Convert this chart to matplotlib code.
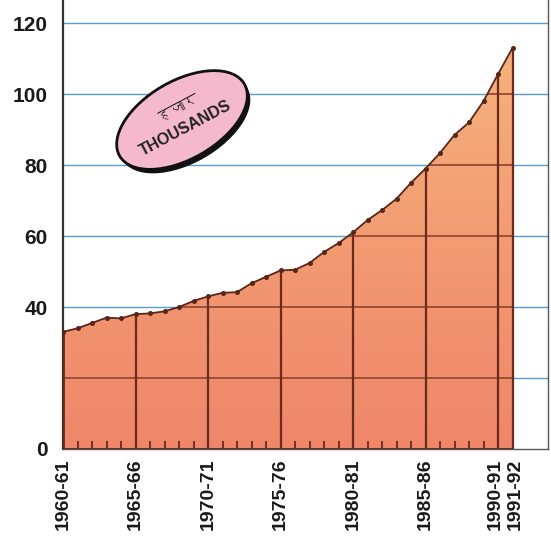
import numpy as np
import matplotlib.pyplot as plt
from matplotlib import font_manager
from matplotlib.ft2font import FT2Font
from matplotlib.colors import LinearSegmentedColormap
from matplotlib.patches import Ellipse, Polygon
from matplotlib.transforms import ScaledTranslation


# ------------------------------------------------------------
# Datos (miles), 1960-61 ... 1991-92
# ------------------------------------------------------------
anos = list(range(1960, 1992))
valores = [33.0, 34.0, 35.5, 37.0, 36.8, 38.0, 38.2, 38.8, 40.0, 41.7,
           43.0, 44.0, 44.2, 46.7, 48.5, 50.3, 50.5, 52.4, 55.5, 58.0,
           61.0, 64.5, 67.3, 70.5, 75.0, 79.0, 83.4, 88.5, 92.0, 98.0,
           105.6, 113.0]

pos_x = [1960, 1965, 1970, 1975, 1980, 1985, 1990, 1991]
etiquetas_x = ["1960-61", "1965-66", "1970-71", "1975-76",
               "1980-81", "1985-86", "1990-91", "1991-92"]
ticks_y = [0, 40, 60, 80, 100, 120]
lineas_y = [20, 40, 60, 80, 100, 120]

texto_hi = "हजार"
texto_en = "THOUSANDS"


def fuente_con(caracter):
    """Busca una fuente instalada que tenga el glifo pedido."""
    for f in font_manager.fontManager.ttflist:
        try:
            if ord(caracter) in FT2Font(f.fname).get_charmap():
                return f.name
        except Exception:
            continue
    return "DejaVu Sans"


W, H = 551, 553
fig = plt.figure(figsize=(W / 100, H / 100), dpi=100)
ax = fig.add_axes([63 / W, 1 - 449 / H, (548 - 63) / W, 449 / H])

x_max = 1960 + (548 - 63) / 14.5
ax.set_xlim(1960, x_max)
ax.set_ylim(0, 126.5)

# lineas de fondo (azules)
ax.hlines(lineas_y, 1960, x_max, color="#5b9dc6", lw=1.0, zorder=1)

# area con degradado
verts = [(anos[0], 0)] + list(zip(anos, valores)) + [(anos[-1], 0)]
area = Polygon(verts, closed=True, fc="none", ec="none")
ax.add_patch(area)
cmap = LinearSegmentedColormap.from_list("area", ["#ef866a", "#f29a72", "#f5b27c"])
grad = np.linspace(0, 1, 256).reshape(-1, 1)
im = ax.imshow(grad, extent=[anos[0], anos[-1], 0, max(valores)], origin="lower",
               aspect="auto", cmap=cmap, zorder=2)
im.set_clip_path(area)

# lineas dentro del area (marrones)
h_int = ax.hlines(lineas_y, anos[0], anos[-1], color="#9a5038", lw=1.4, zorder=3)
h_int.set_clip_path(area)

col_osc = "#6a2a1c"
for x in pos_x:
    ax.vlines(x, 0, valores[anos.index(x)], color=col_osc, lw=1.6, zorder=4)
ax.vlines(anos[0], 0, valores[0], color=col_osc, lw=2, zorder=4)
ax.vlines(anos, 0, 2.2, color=col_osc, lw=1.3, zorder=4)
ax.hlines(0, anos[0], anos[-1], color=col_osc, lw=2.2, zorder=4)
ax.plot(anos, valores, color="#5a2618", lw=1.3, marker="o", ms=2.6, zorder=5)

# ejes
ax.spines["top"].set_visible(False)
ax.spines["left"].set_color("#333333")
ax.spines["left"].set_linewidth(1.6)
ax.spines["right"].set_color("#555555")
ax.spines["right"].set_linewidth(1.0)
ax.spines["bottom"].set_color("#555555")
ax.spines["bottom"].set_linewidth(1.0)

ax.set_yticks(ticks_y)
ax.set_yticklabels([str(v) for v in ticks_y], fontsize=15, fontweight="bold",
                   family="Liberation Sans", color="#1a1a1a")
ax.set_xticks(pos_x)
ax.set_xticklabels(etiquetas_x, rotation=90, fontsize=14, fontweight="bold",
                   family="Liberation Sans", color="#1a1a1a", va="top", ha="center")
ax.tick_params(axis="y", length=0, pad=11)
ax.tick_params(axis="x", length=0, pad=7)

# separar un poco las dos ultimas etiquetas, que van casi pegadas
lbls = ax.get_xticklabels()
lbls[-2].set_transform(lbls[-2].get_transform() + ScaledTranslation(-3 / 100, 0, fig.dpi_scale_trans))
lbls[-1].set_transform(lbls[-1].get_transform() + ScaledTranslation(3 / 100, 0, fig.dpi_scale_trans))

# elipse "THOUSANDS"
cx, cy = 1.82, (H - 120) / 100
tr = fig.dpi_scale_trans
sombra = Ellipse((cx + 0.03, cy - 0.04), 1.44, 0.78, angle=30, transform=tr,
                 fc="#111111", ec="none", zorder=10)
elip = Ellipse((cx, cy), 1.44, 0.78, angle=30, transform=tr,
               fc="#f5b9cd", ec="#111111", lw=2, zorder=11)
fig.add_artist(sombra)
fig.add_artist(elip)
fig.text(1.78, (H - 108) / 100, texto_hi, transform=tr, rotation=28,
         fontsize=11, family=[fuente_con("ह"), "DejaVu Sans"], color="#222222",
         ha="center", va="center", zorder=12)
fig.text(1.86, (H - 128) / 100, texto_en, transform=tr, rotation=28,
         fontsize=11.5, fontweight="bold", family="Liberation Sans", color="#222222",
         ha="center", va="center", zorder=12)

fig.savefig("out.png", dpi=100)
